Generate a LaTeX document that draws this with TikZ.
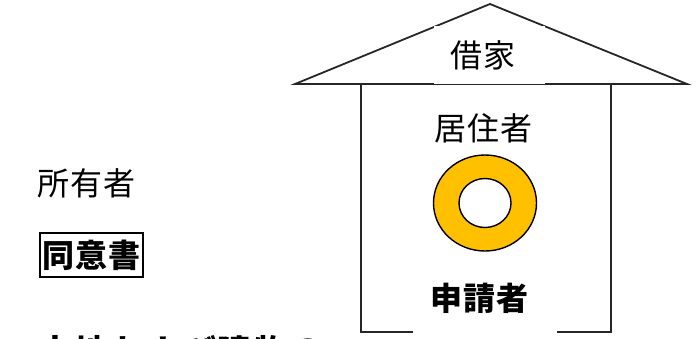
\documentclass[tikz,border=0pt]{standalone}
\usepackage{fontspec}
\newfontfamily\jpfont[LetterSpace=3]{Noto Sans CJK JP}
\newfontfamily\jpwide[LetterSpace=6]{Noto Sans CJK JP}
\tikzset{
  wall/.style={draw=black!85, line width=1.8pt},
  label/.style={inner sep=0pt, font=\jpfont\fontsize{32}{32}\selectfont},
  cover/.style={label, fill=white},
  strong/.style={cover, font=\jpfont\bfseries\fontsize{32}{32}\selectfont},
}
\begin{document}
\begin{tikzpicture}[x=1pt,y=-1pt]
\useasboundingbox (0,0) rectangle (700,338);
\draw[wall] (295,84) -- (490,4) -- (687,84) -- cycle;
\draw[wall] (361,84) rectangle (611,332);
\node[cover, minimum width=111pt, minimum height=58pt] (kashiya) at (489.5,55) {\hspace{-13pt}借家};
\node[label] (kyojusha) at (483.5,128) {居住者};
\node[strong, minimum width=144pt, minimum height=72pt] (shinseisha) at (485,298) {\hspace{-11pt}申請者};
\node[label] (shoyusha) at (86.5,183) {所有者};
\node[strong, draw, line width=1.5pt, minimum width=103pt, minimum height=44pt] (doisho) at (91.5,255) {同意書};
\node[strong, fill=none, font=\jpwide\bfseries\fontsize{34}{34}\selectfont, anchor=north west] (tochi) at (38,335) {土地および建物の};
\draw[line width=1.4pt, fill={rgb,255:red,255;green,192;blue,0}, even odd rule]
  (485,203) ellipse [x radius=51.5, y radius=48] (485,203) ellipse [x radius=26, y radius=24.5];
\end{tikzpicture}
\end{document}
